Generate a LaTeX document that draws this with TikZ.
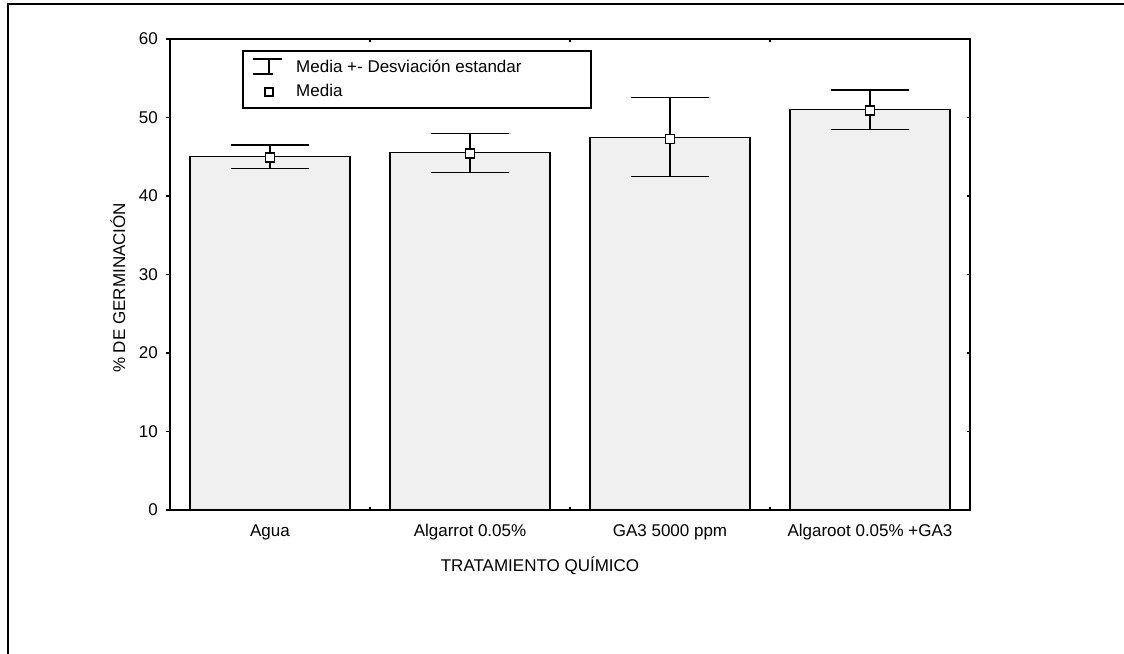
\documentclass[tikz,border=0pt]{standalone}
\usepackage{fontspec}
\setmainfont{Liberation Sans}
\usetikzlibrary{positioning}
\definecolor{barfill}{gray}{0.94}
\tikzset{bar/.style = {draw, line width=1.2pt, fill=barfill}}
\tikzset{errline/.style = {line width=1.2pt}}
\tikzset{media/.style = {draw, fill=white, line width=1.3pt, inner sep=0, minimum size=9pt}}
\tikzset{lbl/.style = {font=\fontsize{17}{20}\selectfont, inner sep=0}}

\begin{document}
\begin{tikzpicture}[x=1pt, y=1pt]
      \useasboundingbox (0, 0) rectangle (1124, 653);
      \clip (0, 0) rectangle (1124, 653);
      \draw [line width=1.6pt] (8, -20) rectangle (1140, 649);

      \begin{scope}[shift={(170, 143)}, y=7.85pt]
        % bars with mean and deviation
        \foreach \i/\m/\lo/\hi/\mk in {0/45/43.5/46.5/44.9, 1/45.5/43/48/45.4,
                                       2/47.5/42.5/52.5/47.3, 3/51/48.5/53.5/50.9} {
          \draw [bar] (200*\i + 20, 0) rectangle (200*\i + 180, \m);
          \draw [errline] (200*\i + 100, \lo) -- (200*\i + 100, \hi);
          \draw [errline] (200*\i + 61, \lo) -- (200*\i + 139, \lo);
          \draw [errline] (200*\i + 61, \hi) -- (200*\i + 139, \hi);
          \node [media] (m\i) at (200*\i + 100, \mk) {};
        }
        \draw [line width=1.3pt] (0, 0) rectangle (800, 60);
        \foreach \v in {0, 10, ..., 60} {
          \draw [line width=1.2pt] (-4, \v) -- (0, \v);
          \draw [line width=1.2pt] (797, \v) -- (800, \v);
          \node [lbl, anchor=east] (y\v) at (-12, \v) {\v};
        }
        \foreach \x in {200, 400, 600} {
          \draw [line width=1.2pt] (\x, 0) -- (\x, 0.4);
          \draw [line width=1.2pt] (\x, 60) -- (\x, 59.6);
        }
        \foreach \i/\name in {0/Agua, 1/Algarrot 0.05\%, 2/GA3 5000 ppm, 3/Algaroot 0.05\% +GA3}
          \node [lbl, anchor=base] (x\i) at (200*\i + 100, 0) [yshift=-27pt] {\name};
        \node [lbl, anchor=base] (xtitle) at (370, 0) [yshift=-62pt] {TRATAMIENTO QUÍMICO};
        \node [lbl, anchor=base, rotate=90] (ytitle) at (-45, 28.3) {\% DE GERMINACIÓN};
      \end{scope}

      % legend
      \draw [line width=1.2pt] (243, 545) rectangle (591, 602);
      \draw [errline] (253, 594) -- (282, 594);
      \draw [errline] (253, 579) -- (273, 579);
      \draw [errline] (269, 579) -- (269, 594);
      \node [lbl, anchor=base west] (leg1) at (296, 580) {Media +- Desviación estandar};
      \node [media, minimum size=8pt] (legm) at (269, 561) {};
      \node [lbl, anchor=base west] (leg2) at (296, 556) {Media};
    \end{tikzpicture}
\end{document}
